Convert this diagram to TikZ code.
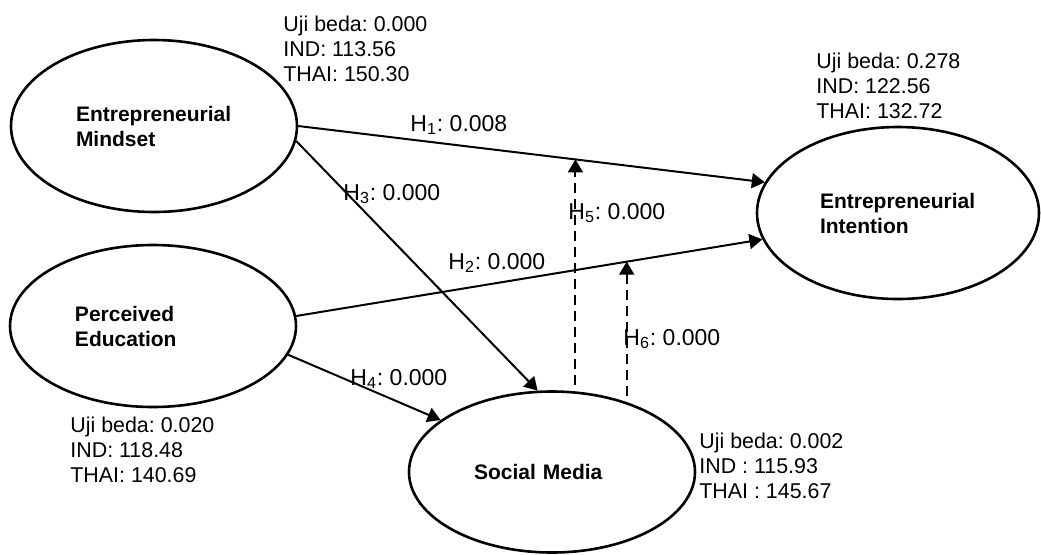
\documentclass[tikz,border=0pt]{standalone}
\usepackage{fontspec}
\setmainfont{Liberation Sans}
\usetikzlibrary{shapes.geometric,arrows.meta}
\frenchspacing

\begin{document}
\begin{tikzpicture}[x=0.5pt,y=-0.5pt,
		construct/.style={draw,ellipse,line width=1.3pt,minimum width=143pt,minimum height=86pt,
			text width=78pt,align=left,font=\fontsize{10.5}{12.5}\selectfont\bfseries},
		stats/.style={anchor=north west,inner sep=0pt,align=left,font=\fontsize{10.7}{12.5}\selectfont},
		hyp/.style={anchor=base west,inner sep=0pt,font=\fontsize{11.5}{13}\selectfont},
		link/.style={line width=1pt,-{Triangle[length=6.5pt,width=7.5pt]}},
		moderate/.style={link,dash pattern=on 5pt off 3pt}]
		\useasboundingbox (0,0) rectangle (1041,554);
		% constructs
		\node[construct] (em) at (154,126) {Entrepreneurial\\Mindset};
		\node[construct,minimum height=81pt] (pe) at (153,326) {Perceived\\Education};
		\node[construct,minimum width=141pt] (ei) at (898,213) {Entrepreneurial\\Intention};
		\node[construct,minimum height=80.5pt] (sm) at (552,472) {Social Media};
		% group comparison
		\node[stats] (emstat) at (283,16) {Uji beda: 0.000\\IND: 113.56\\THAI: 150.30};
		\node[stats] (eistat) at (816,53) {Uji beda: 0.278\\IND: 122.56\\THAI: 132.72};
		\node[stats] (pestat) at (70,417) {Uji beda: 0.020\\IND: 118.48\\THAI: 140.69};
		\node[stats] (smstat) at (699,433) {Uji beda: 0.002\\IND : 115.93\\THAI : 145.67};
		% paths
		\draw[link] (em.east) -- coordinate[pos=0.594] (on1) (ei.167);
		\draw[link] (pe.4) -- coordinate[pos=0.709] (on2) (ei.191);
		\draw[link] (em.-6) -- (sm.100);
		\draw[link] (pe.-12) -- (sm.155);
		\coordinate (s5) at (on1 |- 0,385);
		\coordinate (s6) at (on2 |- 0,396);
		\draw[moderate] (s5) -- (on1);
		\draw[moderate] (s6) -- (on2);
		% hypotheses
		\node[hyp] (h1) at (410,131) {H\textsubscript{1}: 0.008};
		\node[hyp] (h2) at (448,269) {H\textsubscript{2}: 0.000};
		\node[hyp] (h3) at (343,200) {H\textsubscript{3}: 0.000};
		\node[hyp] (h4) at (350,385) {H\textsubscript{4}: 0.000};
		\node[hyp] (h5) at (568,219) {H\textsubscript{5}: 0.000};
		\node[hyp] (h6) at (623,345) {H\textsubscript{6}: 0.000};
	\end{tikzpicture}
\end{document}
